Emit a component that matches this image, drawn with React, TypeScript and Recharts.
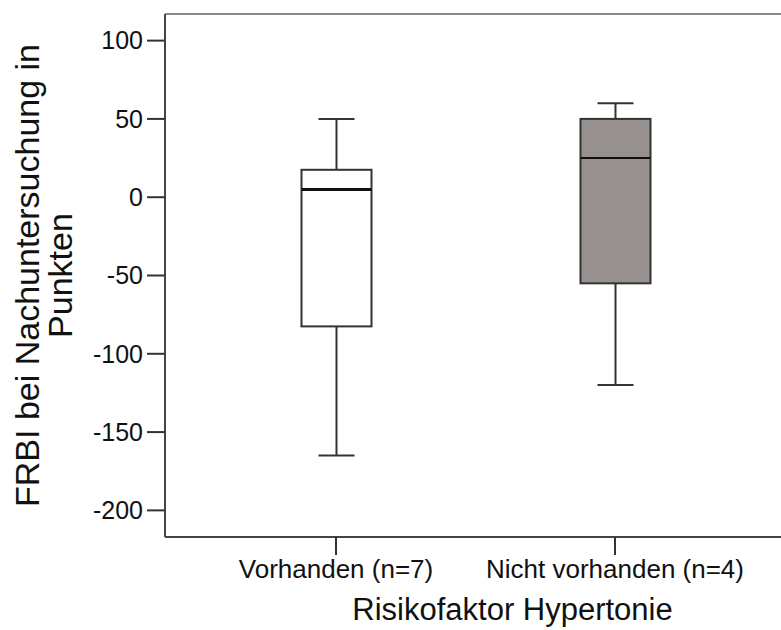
import React from 'react'
import { ComposedChart, Bar, XAxis, YAxis, ReferenceLine } from 'recharts'

// Boxplot summary per group
const categories = ['Vorhanden (n=7)', 'Nicht vorhanden (n=4)']
const mins = [-165, -120]
const q1s = [-82.5, -55]
const medians = [5, 25]
const q3s = [17.5, 50]
const maxs = [50, 60]
const yTicks = [-200, -150, -100, -50, 0, 50, 100]
const yDomain = [-217, 117]

const yTitle = ['FRBI bei Nachuntersuchung in', 'Punkten']
const xTitle = 'Risikofaktor Hypertonie'

const FONT = 'Arial, "Liberation Sans", sans-serif'
const BOX_FILLS = ['#ffffff', '#96918f']
const MEDIAN_WIDTHS = [3, 2]
const LINE = '#333'

const data = categories.map((name, i) => ({
  name,
  range: [mins[i], maxs[i]],
  min: mins[i],
  q1: q1s[i],
  median: medians[i],
  q3: q3s[i],
  max: maxs[i],
}))

function BoxShape(props: any) {
  const { x, y, width, height, payload, index } = props
  const top = Math.min(y, y + height)
  const h = Math.abs(height)
  const span = payload.max - payload.min
  const toY = (v: number) => top + ((payload.max - v) / span) * h
  const cx = x + width / 2
  const cap = 18
  const yQ3 = toY(payload.q3)
  const yQ1 = toY(payload.q1)
  const yMed = toY(payload.median)
  return (
    <g>
      <line x1={cx} x2={cx} y1={toY(payload.max)} y2={yQ3} stroke={LINE} strokeWidth={2} />
      <line x1={cx} x2={cx} y1={yQ1} y2={toY(payload.min)} stroke={LINE} strokeWidth={2} />
      <line x1={cx - cap} x2={cx + cap} y1={toY(payload.max)} y2={toY(payload.max)} stroke={LINE} strokeWidth={2} />
      <line x1={cx - cap} x2={cx + cap} y1={toY(payload.min)} y2={toY(payload.min)} stroke={LINE} strokeWidth={2} />
      <rect x={x} y={yQ3} width={width} height={yQ1 - yQ3} fill={BOX_FILLS[index]} stroke={LINE} strokeWidth={2} />
      <line x1={x} x2={x + width} y1={yMed} y2={yMed} stroke="#111" strokeWidth={MEDIAN_WIDTHS[index]} />
    </g>
  )
}

function YTitle(props: any) {
  const { viewBox } = props
  const cy = viewBox.y + viewBox.height / 2
  return (
    <g fontFamily={FONT} fontSize={34} fill="#111">
      <text transform={`translate(39, ${cy}) rotate(-90)`} textAnchor="middle">{yTitle[0]}</text>
      <text transform={`translate(72, ${cy}) rotate(-90)`} textAnchor="middle">{yTitle[1]}</text>
    </g>
  )
}

function XTitle(props: any) {
  const { viewBox } = props
  return (
    <text x={viewBox.x + viewBox.width / 2} y={620} textAnchor="middle" fontFamily={FONT} fontSize={31} fill="#111">
      {xTitle}
    </text>
  )
}

export default function App() {
  return (
    <div style={{ position: 'fixed', left: 0, top: 0, width: 781, height: 630, overflow: 'hidden', background: '#fff' }}>
      <ComposedChart width={860} height={630} data={data} margin={{ top: 14, right: 0, bottom: 0, left: 0 }}>
        <XAxis
          dataKey="name"
          height={93}
          padding={{ left: 31.5, right: 105.5 }}
          tickSize={18}
          tickMargin={5}
          tick={{ fontSize: 26, fill: '#111', fontFamily: FONT }}
          tickLine={{ stroke: LINE, strokeWidth: 2 }}
          axisLine={{ stroke: '#444', strokeWidth: 2 }}
          label={{ content: XTitle }}
        />
        <YAxis
          width={165}
          domain={yDomain}
          ticks={yTicks}
          allowDataOverflow
          tickSize={18}
          tickMargin={4}
          tick={{ fontSize: 25, fill: '#111', fontFamily: FONT }}
          tickLine={{ stroke: LINE, strokeWidth: 2 }}
          axisLine={{ stroke: '#444', strokeWidth: 2 }}
          label={{ content: YTitle }}
        />
        {/* top edge of the plot frame */}
        <ReferenceLine y={yDomain[1]} stroke="#888" strokeWidth={2} ifOverflow="visible" />
        <Bar dataKey="range" barSize={70} shape={BoxShape} isAnimationActive={false} />
      </ComposedChart>
    </div>
  )
}
